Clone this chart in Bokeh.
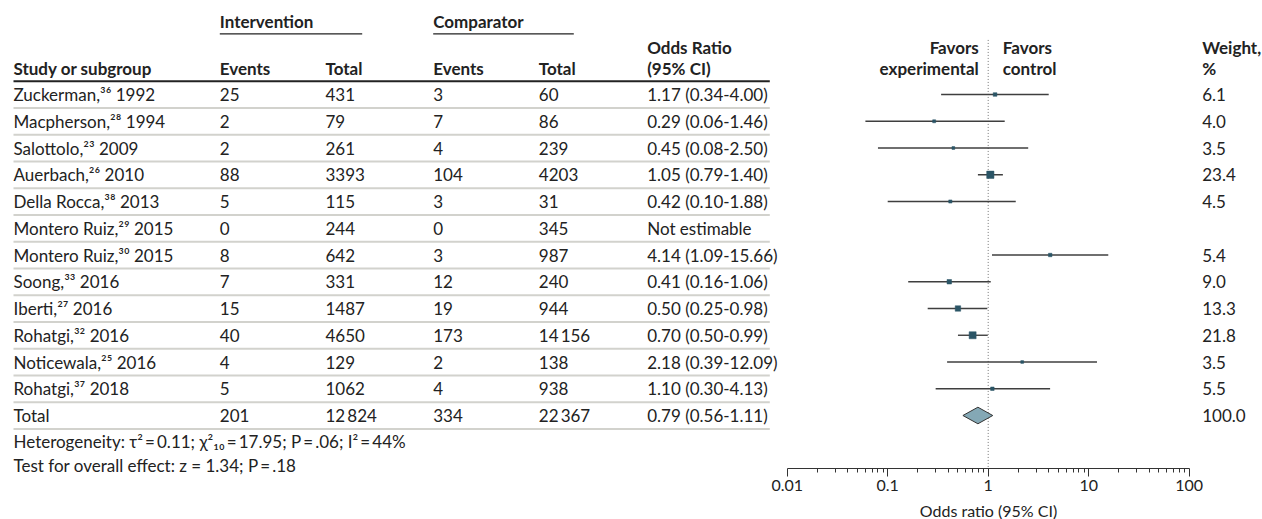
import math
from bokeh.plotting import figure
from bokeh.models import Range1d, LogScale, LogAxis, FixedTicker, CustomJSTickFormatter
from bokeh.core.properties import value
from bokeh.embed import file_html
from bokeh.resources import INLINE

# ---------------- data ----------------
studies = ["Zuckerman,\u00b3\u2076 1992", "Macpherson,\u00b2\u2078 1994", "Salottolo,\u00b2\u00b3 2009",
           "Auerbach,\u00b2\u2076 2010", "Della Rocca,\u00b3\u2078 2013", "Montero Ruiz,\u00b2\u2079 2015",
           "Montero Ruiz,\u00b3\u2070 2015", "Soong,\u00b3\u00b3 2016", "Iberti,\u00b2\u2077  2016",
           "Rohatgi,\u00b3\u00b2 2016", "Noticewala,\u00b2\u2075  2016", "Rohatgi,\u00b3\u2077 2018"]
int_events = [25, 2, 2, 88, 5, 0, 8, 7, 15, 40, 4, 5]
int_total = [431, 79, 261, 3393, 115, 244, 642, 331, 1487, 4650, 129, 1062]
comp_events = [3, 7, 4, 104, 3, 0, 3, 12, 19, 173, 2, 4]
comp_total = [60, 86, 239, 4203, 31, 345, 987, 240, 944, 14156, 138, 938]
odds = [1.17, 0.29, 0.45, 1.05, 0.42, None, 4.14, 0.41, 0.50, 0.70, 2.18, 1.10]
ci_lo = [0.34, 0.06, 0.08, 0.79, 0.10, None, 1.09, 0.16, 0.25, 0.50, 0.39, 0.30]
ci_hi = [4.00, 1.46, 2.50, 1.40, 1.88, None, 15.66, 1.06, 0.98, 0.99, 12.09, 4.13]
weights = [6.1, 4.0, 3.5, 23.4, 4.5, None, 5.4, 9.0, 13.3, 21.8, 3.5, 5.5]

total_label = "Total"
total_int_events, total_int_total = 201, 12824
total_comp_events, total_comp_total = 334, 22367
total_or, total_lo, total_hi, total_weight = 0.79, 0.56, 1.11, 100.0

heterogeneity = ("Heterogeneity: \u03c4\u00b2\u2009=\u20090.11; \u03c7\u00b2\u2081\u2080\u2009=\u200917.95; "
                 "P\u2009=\u2009.06; I\u00b2\u2009=\u200944%")
overall = "Test for overall effect: z = 1.34; P\u2009=\u2009.18"

TICKS = [0.01, 0.1, 1, 10, 100]
TICK_LABELS = ["0.01", "0.1", "1", "10", "100"]

# ---------------- layout ----------------
W, H = 1262, 519
ROW_H = 26.75
ROW0 = 94.0                      # px of first study row centre
Y_TOP = -ROW0 / ROW_H
Y_BOT = (H - ROW0) / ROW_H
ONE_X = 987.7                    # px where OR = 1
DECADE = 100.5                   # px per decade
OR_START = 10 ** ((0 - ONE_X) / DECADE)
OR_END = 10 ** ((W - ONE_X) / DECADE)

X_STUDY, X_IE, X_IT, X_CE, X_CT, X_OR = 13, 219.3, 325, 432.7, 538.3, 646.7
X_FAV_R, X_FAV_L, X_W, LINE_END = 978.3, 1002.3, 1201.7, 769.3
Y_GROUP, Y_ULINE, Y_H1, Y_H2 = -2.74, -2.27, -1.77, -0.96
AXIS_Y = 13.98

FONT = "Lato"
FS = "17px"
AXFS = "16px"
TXT = "#222222"

p = figure(width=W, height=H, x_range=Range1d(0, W), y_range=Range1d(Y_BOT, Y_TOP),
           x_axis_type=None, y_axis_type=None, toolbar_location=None,
           output_backend="svg", min_border=0, outline_line_color=None,
           background_fill_color="white", border_fill_color="white")
p.extra_x_ranges = {"or": Range1d(OR_START, OR_END)}
p.extra_x_scales = {"or": LogScale()}


def txt(x, y, texts, bold=False, align="left"):
    n = len(texts)
    xs = x if isinstance(x, list) else [x] * n
    ys = y if isinstance(y, list) else [y] * n
    p.text(x=xs, y=ys, text=texts, text_font=value(FONT), text_font_size=value(FS),
           text_font_style="bold" if bold else "normal", text_color=TXT,
           text_align=align, text_baseline="middle")


def fmt_n(n):
    return f"{n:,}".replace(",", "\u2009") if n >= 10000 else str(n)


n = len(studies)
rows = list(range(n))
total_row = n

# headers
txt(X_IE, Y_GROUP, ["Intervention"], bold=True)
txt(X_CE, Y_GROUP, ["Comparator"], bold=True)
p.segment(x0=[X_IE, X_CE], x1=[361.7, 573.3], y0=[Y_ULINE] * 2, y1=[Y_ULINE] * 2,
          line_color="#222222", line_width=1.2)
txt(X_STUDY, Y_H2, ["Study or subgroup"], bold=True)
txt([X_IE, X_IT, X_CE, X_CT], Y_H2, ["Events", "Total", "Events", "Total"], bold=True)
txt(X_OR, [Y_H1, Y_H2], ["Odds Ratio", "(95% CI)"], bold=True)
txt(X_FAV_R, [Y_H1, Y_H2], ["Favors", "experimental"], bold=True, align="right")
txt(X_FAV_L, [Y_H1, Y_H2], ["Favors", "control"], bold=True)
txt(X_W, [Y_H1, Y_H2], ["Weight,", "%"], bold=True)

# separators
p.segment(x0=[X_STUDY] * (n + 1), x1=[LINE_END] * (n + 1),
          y0=[r + 0.5 for r in range(n + 1)], y1=[r + 0.5 for r in range(n + 1)],
          line_color="#d2d2cd", line_width=2)
p.segment(x0=[X_STUDY], x1=[LINE_END], y0=[-0.5], y1=[-0.5], line_color="#222222", line_width=2)

# table body
all_rows = rows + [total_row]
txt(X_STUDY, all_rows, studies + [total_label])
txt(X_IE, all_rows, [fmt_n(v) for v in int_events + [total_int_events]])
txt(X_IT, all_rows, [fmt_n(v) for v in int_total + [total_int_total]])
txt(X_CE, all_rows, [fmt_n(v) for v in comp_events + [total_comp_events]])
txt(X_CT, all_rows, [fmt_n(v) for v in comp_total + [total_comp_total]])
or_txt = [f"{o:.2f} ({l:.2f}-{h:.2f})" if o is not None else "Not estimable"
          for o, l, h in zip(odds + [total_or], ci_lo + [total_lo], ci_hi + [total_hi])]
txt(X_OR, all_rows, or_txt)
w_rows = [r for r, w in zip(all_rows, weights + [total_weight]) if w is not None]
w_vals = [f"{w:.1f}" for w in weights + [total_weight] if w is not None]
txt(X_W, w_rows, w_vals)

txt(X_STUDY, [12.97, 13.88], [heterogeneity, overall])

# forest plot
p.segment(x0=[1], x1=[1], y0=[-2.04], y1=[AXIS_Y], x_range_name="or",
          line_color="#777777", line_dash="1 2", line_width=1)
est = [i for i in rows if odds[i] is not None]
p.segment(x0=[ci_lo[i] for i in est], x1=[ci_hi[i] for i in est], y0=est, y1=est,
          x_range_name="or", line_color="#3f3f3f", line_width=1.4)
p.scatter(x=[odds[i] for i in est], y=est, size=[1.5 * math.sqrt(weights[i]) for i in est],
          marker="square", x_range_name="or", fill_color="#2b5566", line_color="#2b5566", line_width=0.5)
DH = 0.31
p.patch(x=[total_lo, total_or, total_hi, total_or],
        y=[total_row, total_row - DH, total_row, total_row + DH],
        x_range_name="or", fill_color="#84a8b5", line_color="#333333", line_width=1)

minor = [k * 10 ** e for e in range(-2, 2) for k in range(2, 10)]
ax = LogAxis(x_range_name="or", ticker=FixedTicker(ticks=TICKS, minor_ticks=minor),
             bounds=(TICKS[0], TICKS[-1]), fixed_location=AXIS_Y,
             axis_label="Odds ratio (95% CI)")
ax.major_label_overrides = dict(zip(TICKS, TICK_LABELS))
ax.formatter = CustomJSTickFormatter(code="return String(+tick.toPrecision(6));")
ax.axis_line_color = "#333333"
ax.major_tick_line_color = "#333333"
ax.minor_tick_line_color = "#333333"
ax.major_tick_out = 8
ax.major_tick_in = 0
ax.minor_tick_out = 4
ax.minor_tick_in = 0
ax.major_label_standoff = 4
ax.major_label_text_font = FONT
ax.major_label_text_font_size = AXFS
ax.major_label_text_color = TXT
ax.axis_label_text_font = FONT
ax.axis_label_text_font_size = AXFS
ax.axis_label_text_font_style = "normal"
ax.axis_label_text_color = TXT
ax.axis_label_standoff = 6
p.add_layout(ax, "below")

open("out.html", "w").write(file_html(p, INLINE))
